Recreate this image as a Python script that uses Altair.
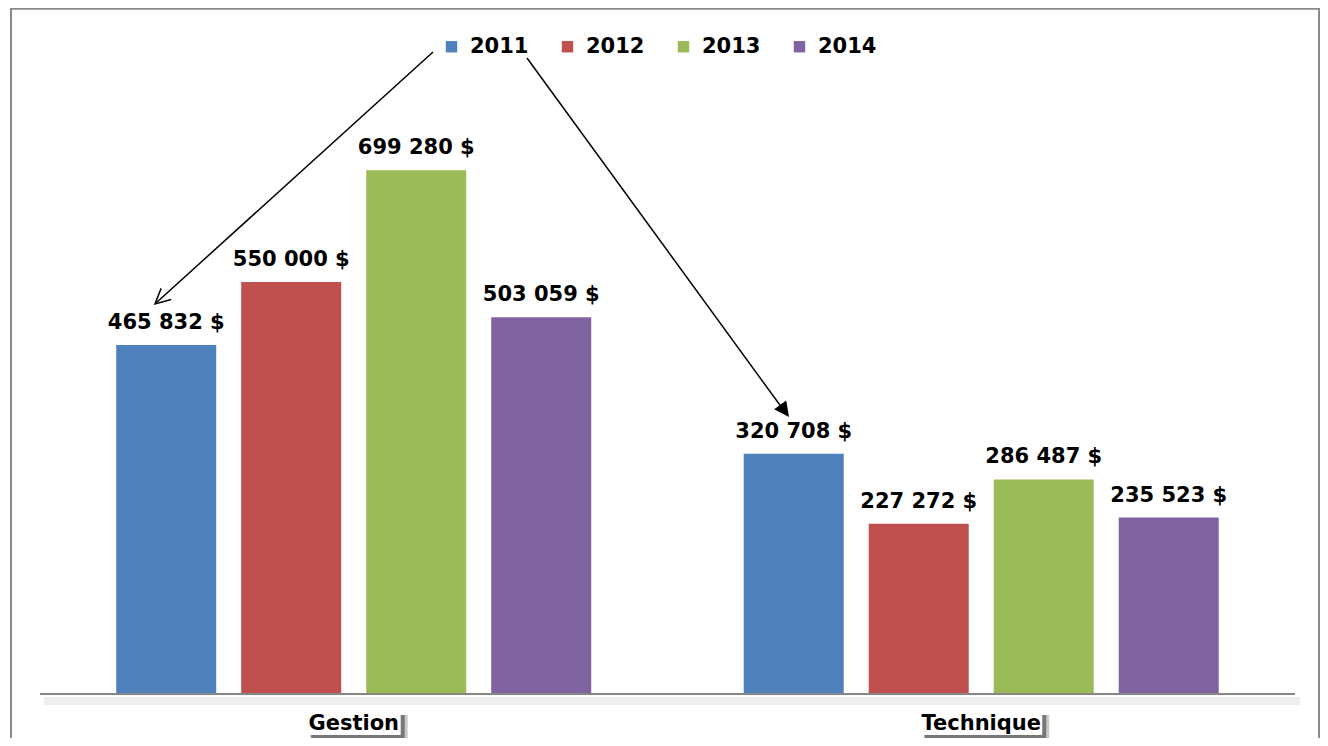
import altair as alt
import pandas as pd

categories = ["Gestion", "Technique"]
years = ["2011", "2012", "2013", "2014"]
gestion = [465832, 550000, 699280, 503059]
technique = [320708, 227272, 286487, 235523]
colors = ["#4F81BD", "#C0504D", "#9BBB59", "#8064A2"]

rows = []
for cat, vals in zip(categories, [gestion, technique]):
    for yr, v in zip(years, vals):
        rows.append({"cat": cat, "year": yr, "value": v,
                     "label": f"{v:,}".replace(",", " ") + " $"})
df = pd.DataFrame(rows)
df_cat = pd.DataFrame({"cat": categories})

FONT = "DejaVu Sans"
W, H = 1312, 730
BASE_Y = 686

xenc = alt.X("cat:N", sort=categories, axis=None,
             scale=alt.Scale(paddingInner=0, paddingOuter=0.0454, align=0.561))
xoff = alt.XOffset("year:N", sort=years,
                   scale=alt.Scale(paddingInner=0.2, paddingOuter=0.61))
yenc = alt.Y("value:Q", axis=None,
             scale=alt.Scale(domain=[-58780, 916000], nice=False, zero=False))

bars = alt.Chart(df).mark_bar().encode(
    x=xenc, xOffset=xoff, y=yenc, y2=alt.Y2(datum=0),
    color=alt.Color("year:N", sort=years,
                    scale=alt.Scale(domain=years, range=colors),
                    legend=alt.Legend(orient="none", legendX=433, legendY=28,
                                      direction="horizontal", title=None,
                                      symbolType="square", symbolSize=130,
                                      symbolStrokeWidth=0,
                                      labelFontSize=21, labelFont=FONT,
                                      labelFontWeight="bold", labelColor="#000",
                                      labelOffset=8, columnPadding=28, padding=0)),
)

labels = alt.Chart(df).mark_text(
    dy=-16, baseline="alphabetic", fontSize=21, font=FONT, fontWeight="bold", color="#000"
).encode(x=xenc, xOffset=xoff, y=yenc, text="label:N")

baseline_shadow = alt.Chart(df_cat).mark_rule(color="#d0d0d0", strokeWidth=8, opacity=0.2).encode(
    x=alt.value(36), x2=alt.value(1292), y=alt.value(BASE_Y + 7))
baseline = alt.Chart(df_cat).mark_rule(color="#868686", strokeWidth=2).encode(
    x=alt.value(32), x2=alt.value(1287), y=alt.value(BASE_Y))

box_layers = []
for cat in categories:
    bw = len(cat) * 14 - 4
    sub = alt.Chart(df_cat).transform_filter(alt.datum.cat == cat)
    box_layers.append(sub.mark_bar(color="#666", opacity=0.35, xOffset=6, width=bw + 2).encode(
        x=xenc, y=alt.value(707), y2=alt.value(735)))
    box_layers.append(sub.mark_bar(color="#333", opacity=0.55, xOffset=4, width=bw).encode(
        x=xenc, y=alt.value(707), y2=alt.value(731)))
    box_layers.append(sub.mark_bar(color="#fff", width=bw).encode(
        x=xenc, y=alt.value(703), y2=alt.value(727)))
cat_text = alt.Chart(df_cat).mark_text(
    fontSize=21, font=FONT, fontWeight="bold", color="#000", baseline="middle"
).encode(x=xenc, y=alt.value(716), text="cat:N")

frame_col = "#8a8a8a"
frame_l = alt.Chart(df_cat).mark_rule(color=frame_col, strokeWidth=2).encode(
    x=alt.value(3), y=alt.value(0), y2=alt.value(H))
frame_t = alt.Chart(df_cat).mark_rule(color=frame_col, strokeWidth=2).encode(
    x=alt.value(3), x2=alt.value(1311), y=alt.value(0.5))
frame_r = alt.Chart(df_cat).mark_rule(color=frame_col, strokeWidth=2).encode(
    x=alt.value(1311), y=alt.value(0), y2=alt.value(H))

arrow_df = pd.DataFrame({"a": [1]})
arrow1 = alt.Chart(arrow_df).mark_rule(color="#000", strokeWidth=1.5).encode(
    x=alt.value(425), y=alt.value(44), x2=alt.value(148), y2=alt.value(295))
head1 = alt.Chart(arrow_df).mark_point(
    shape="M-0.5,1L0,0L0.5,1", filled=False, size=900, angle=228,
    color="#000", strokeWidth=1.5, opacity=1
).encode(x=alt.value(147), y=alt.value(296))
arrow2 = alt.Chart(arrow_df).mark_rule(color="#000", strokeWidth=1.5).encode(
    x=alt.value(519), y=alt.value(50), x2=alt.value(777), y2=alt.value(404))
head2 = alt.Chart(arrow_df).mark_point(
    shape="M0,0L0.5,1L-0.5,1Z", filled=True, size=900, angle=144,
    color="#000", opacity=1
).encode(x=alt.value(781), y=alt.value(409))

chart = alt.layer(
    frame_l, frame_t, frame_r,
    baseline_shadow, bars, baseline, labels,
    *box_layers, cat_text,
    arrow1, head1, arrow2, head2,
).properties(
    width=W, height=H, padding=0, autosize=alt.AutoSizeParams(type="none"),
    background="#ffffff",
).configure_view(strokeWidth=0)

chart.save("out.html", embed_options={"renderer": "svg", "actions": False})
